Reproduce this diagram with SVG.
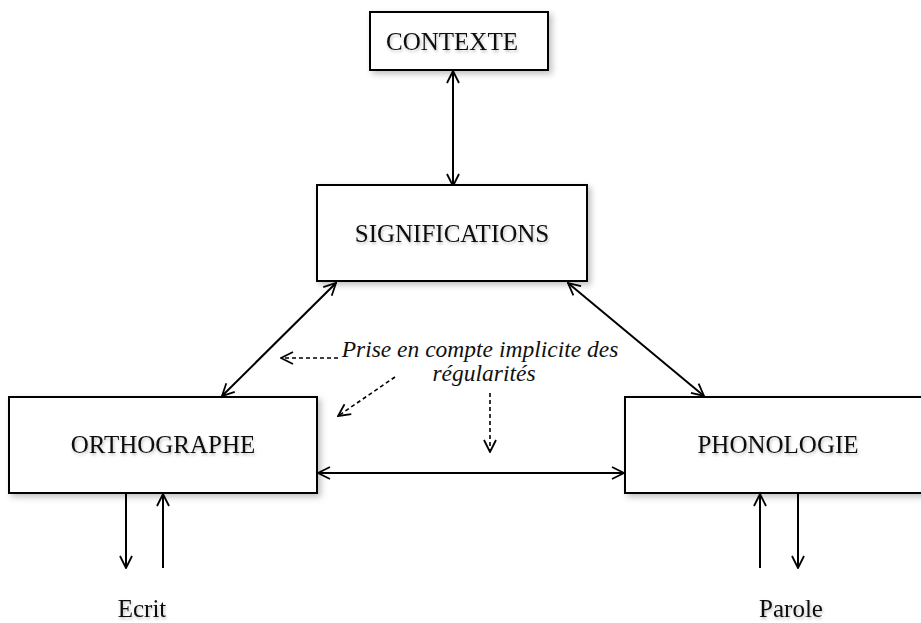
<svg xmlns="http://www.w3.org/2000/svg" width="921" height="623" viewBox="0 0 921 623">
<style>
.box{fill:#fff;stroke:#000;stroke-width:2;filter:url(#sh)}
.lbl{font-family:"Liberation Serif",serif;font-size:25px;fill:#111;text-anchor:middle;filter:url(#tsh)}
.note{font-family:"Liberation Serif",serif;font-size:23.5px;font-style:italic;fill:#111;text-anchor:middle}
.ln{stroke:#000;stroke-width:2;fill:none}
.dash{stroke:#000;stroke-width:1.6;fill:none;stroke-dasharray:4 3}
</style>
<defs>
<filter id="sh" x="-10%" y="-10%" width="125%" height="130%">
<feDropShadow dx="3" dy="3" stdDeviation="3" flood-color="#000" flood-opacity="0.25"/>
</filter>
<filter id="tsh" x="-10%" y="-20%" width="120%" height="150%">
<feDropShadow dx="1" dy="2" stdDeviation="1.5" flood-color="#000" flood-opacity="0.25"/>
</filter>
<marker id="ah" viewBox="0 0 14 14" refX="13" refY="7" markerWidth="14" markerHeight="14" markerUnits="userSpaceOnUse" orient="auto-start-reverse">
<path d="M1,1 L13,7 L1,13" fill="none" stroke="#000" stroke-width="1.8"/>
</marker>
<marker id="ahd" viewBox="0 0 14 14" refX="13" refY="7" markerWidth="14" markerHeight="14" markerUnits="userSpaceOnUse" orient="auto">
<path d="M1,1 L13,7 L1,13" fill="none" stroke="#000" stroke-width="1.8"/>
</marker>
</defs>

<g id="connectors">
<line class="ln" x1="453" y1="71" x2="453" y2="186" marker-start="url(#ah)" marker-end="url(#ah)"/>
<line class="ln" x1="336" y1="283" x2="222" y2="396" marker-start="url(#ah)" marker-end="url(#ah)"/>
<line class="ln" x1="568" y1="283" x2="704" y2="396" marker-start="url(#ah)" marker-end="url(#ah)"/>
<line class="ln" x1="318" y1="473" x2="624" y2="473" marker-start="url(#ah)" marker-end="url(#ah)"/>
<line class="ln" x1="126" y1="494" x2="126" y2="568" marker-end="url(#ah)"/>
<line class="ln" x1="163" y1="568" x2="163" y2="494" marker-end="url(#ah)"/>
<line class="ln" x1="760" y1="568" x2="760" y2="494" marker-end="url(#ah)"/>
<line class="ln" x1="798" y1="494" x2="798" y2="568" marker-end="url(#ah)"/>
<line class="dash" x1="338" y1="358" x2="281" y2="358" marker-end="url(#ahd)"/>
<line class="dash" x1="395" y1="377" x2="338" y2="416" marker-end="url(#ahd)"/>
<line class="dash" x1="490" y1="393" x2="490" y2="452" marker-end="url(#ahd)"/>
</g>

<g id="contexte">
<rect class="box" x="370" y="12" width="178" height="58"/>
<text class="lbl" x="452" y="50">CONTEXTE</text>
</g>
<g id="significations">
<rect class="box" x="317" y="185" width="270" height="96"/>
<text class="lbl" x="452" y="242">SIGNIFICATIONS</text>
</g>
<g id="orthographe">
<rect class="box" x="9" y="397" width="308" height="96"/>
<text class="lbl" x="163" y="453">ORTHOGRAPHE</text>
</g>
<g id="phonologie">
<rect class="box" x="625" y="397" width="310" height="96"/>
<text class="lbl" x="778" y="453">PHONOLOGIE</text>
</g>
<g id="note">
<text class="note" x="480" y="357">Prise en compte implicite des</text>
<text class="note" x="484" y="381">régularités</text>
</g>
<g id="ecrit">
<text class="lbl" x="142" y="617">Ecrit</text>
</g>
<g id="parole">
<text class="lbl" x="791" y="617">Parole</text>
</g>
</svg>
